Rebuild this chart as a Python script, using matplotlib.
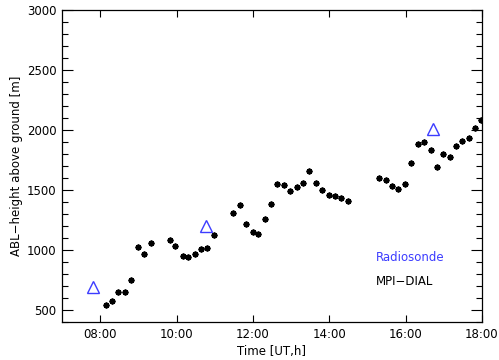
#!/usr/bin/env python3
import matplotlib
matplotlib.use("Agg")
import matplotlib.pyplot as plt
from matplotlib.ticker import MultipleLocator, FuncFormatter

# MPI-DIAL ABL height (time in hours UT, height in m)
dial_time = [8.14, 8.32, 8.48, 8.66, 8.81, 8.98, 9.16, 9.32, 9.82, 9.97,
             10.16, 10.31, 10.49, 10.65, 10.81, 10.98, 11.48, 11.65, 11.83, 11.99,
             12.14, 12.32, 12.47, 12.63, 12.81, 12.98, 13.15, 13.32, 13.48, 13.66,
             13.82, 13.99, 14.16, 14.32, 14.49, 15.31, 15.48, 15.65, 15.81, 15.98,
             16.15, 16.33, 16.48, 16.66, 16.82, 16.99, 17.15, 17.32, 17.48, 17.65,
             17.82, 17.97]
dial_height = [544, 575, 647, 647, 753, 1025, 967, 1056, 1081, 1031,
               947, 942, 967, 1008, 1017, 1122, 1311, 1372, 1219, 1150,
               1136, 1258, 1386, 1553, 1542, 1494, 1522, 1556, 1661, 1558,
               1497, 1461, 1450, 1436, 1411, 1603, 1586, 1531, 1508, 1553,
               1725, 1886, 1900, 1833, 1689, 1797, 1775, 1864, 1908, 1933,
               2014, 2083]

# Radiosonde ABL height
sonde_time = [7.82, 10.77, 16.73]
sonde_height = [694, 1200, 2006]

BLUE = "#3c3cff"

plt.rcParams["font.family"] = ["DejaVu Sans"]
fig = plt.figure(figsize=(4.99, 3.60), dpi=100)
ax = fig.add_axes([0.1242, 0.1056, 0.8417, 0.8667])

# IDL-like small "*" symbol: a dense asterisk
ax.plot(dial_time, dial_height, linestyle="none", marker=(8, 2, 0),
        markersize=4.2, mew=1.3, color="black")
ax.plot(dial_time, dial_height, linestyle="none", marker="s",
        markersize=2.6, mew=0, color="black")
ax.plot(sonde_time, sonde_height, linestyle="none", marker="^",
        markersize=9, mfc="none", mec=BLUE, mew=1.0)

ax.set_xlim(7, 18)
ax.set_ylim(400, 3000)
ax.xaxis.set_major_locator(MultipleLocator(2))
ax.xaxis.set_major_formatter(FuncFormatter(lambda v, p: "%02d:00" % int(round(v))))
ax.yaxis.set_minor_locator(MultipleLocator(100))
ax.set_yticks([500, 1000, 1500, 2000, 2500, 3000])

ax.tick_params(axis="both", which="both", direction="in", top=True, right=True,
               labelsize=8.5, width=0.8)
ax.tick_params(axis="x", which="major", length=5, pad=4)
ax.tick_params(axis="y", which="major", length=8, pad=4)
ax.tick_params(axis="y", which="minor", length=4)
for s in ax.spines.values():
    s.set_linewidth(0.9)

ax.set_xlabel("Time [UT,h]", fontsize=8.5, labelpad=3)
ax.set_ylabel("ABL\u2212height above ground [m]", fontsize=8.5, labelpad=3)

ax.text(15.21, 935, "Radiosonde", color=BLUE, fontsize=8.5, va="center")
ax.text(15.21, 735, "MPI\u2212DIAL", color="black", fontsize=8.5, va="center")

fig.savefig("out.png", dpi=100)
